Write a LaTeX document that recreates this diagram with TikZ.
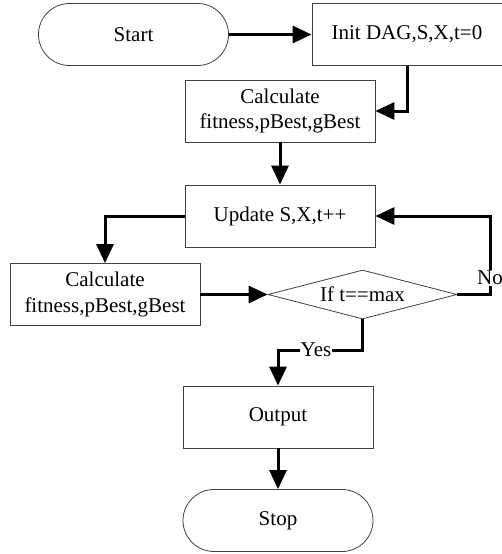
\documentclass[tikz,border=0pt]{standalone}
\usepackage{fontspec}
\setmainfont{Liberation Serif}
\usetikzlibrary{shapes.geometric,arrows.meta}
\begin{document}
\begin{tikzpicture}[x=1pt,y=-1pt,
  every node/.style={font=\fontsize{21}{25.7}\selectfont},
  box/.style={draw=black!75, line width=0.8pt, minimum width=190pt,
    minimum height=62pt, align=center, inner sep=0pt},
  term/.style={box, rounded corners=31pt},
  decision/.style={diamond, draw=black!75, line width=0.8pt,
    minimum width=189pt, minimum height=49pt, aspect=3.86, inner sep=0pt},
  flow/.style={line width=3pt, -{Triangle[length=19pt,width=17pt]}},
  tag/.style={fill=white, inner sep=1pt}
]
\useasboundingbox (0,0) rectangle (501,554);

% process steps
\node[term] (start) at (133.5,34.5) {Start};
\node[box] (init) at (407,34.5) {Init DAG,S,X,t=0};
\node[box] (calc1) at (280,111) {Calculate\\fitness,pBest,gBest};
\node[box] (update) at (280,216) {Update S,X,t++};
\node[box] (calc2) at (105,294.5) {Calculate\\fitness,pBest,gBest};
\node[decision] (dec) at (362.5,294.5) {If t==max};
\node[box] (output) at (278,417) {Output};
\node[term] (stop) at (278,520.5) {Stop};

% connectors
\draw[flow] (start) -- (init);
\draw[flow] (init.south) |- (calc1.east);
\draw[flow] (calc1) -- (update);
\draw[flow] (update.west) -| (calc2.north);
\draw[flow] (calc2) -- (dec);

\coordinate (nocorner) at (490,294.5);
\draw[flow] (dec.east) -- (nocorner) |- (update.east);
\node[tag] (nolbl) at (490,278) {No};

\draw[flow] (dec.south) -- ++(0,31) -| (output.north);
\node[tag] (yeslbl) at (316,350) {Yes};

\draw[flow] (output) -- (stop);
\end{tikzpicture}
\end{document}
